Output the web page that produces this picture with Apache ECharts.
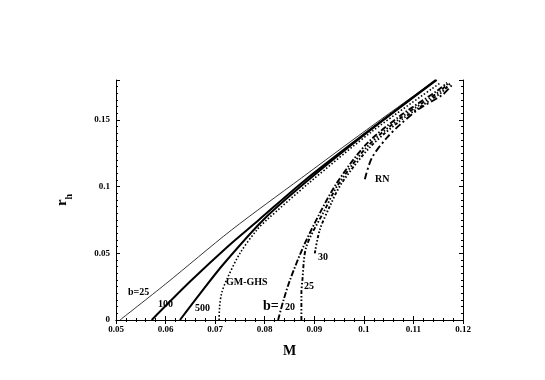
<!DOCTYPE html>
<html>
<head>
<meta charset="utf-8">
<script src="https://cdn.jsdelivr.net/npm/echarts@6/dist/echarts.min.js"></script>
<style>
  html, body { margin: 0; padding: 0; background: #fff; }
  #chart { width: 545px; height: 380px; }
</style>
</head>
<body>
<div id="chart"></div>
<script>
// tick labels
const xTicks = [0.05, 0.06, 0.07, 0.08, 0.09, 0.1, 0.11, 0.12]
const yTicks = [0, 0.05, 0.1, 0.15]

// GM-GHS b=25 (thin)
const b25M = [0.0508, 0.060, 0.0733, 0.0874, 0.1005, 0.1145]
const b25R = [0, 0.027, 0.0675, 0.1065, 0.1425, 0.18]
// GM-GHS b=100
const b100M = [0.0572, 0.065, 0.0725, 0.0788, 0.088, 0.101, 0.1145]
const b100R = [0, 0.029, 0.055, 0.075, 0.1045, 0.142, 0.18]
// GM-GHS b=500
const b500M = [0.0629, 0.067, 0.0717, 0.0797, 0.0885, 0.101, 0.1147]
const b500R = [0, 0.02, 0.042, 0.075, 0.104, 0.1415, 0.18]
// GM-GHS (dotted)
const ghsM = [0.0708, 0.0709, 0.0713, 0.0723, 0.075, 0.0784, 0.0804, 0.089, 0.1015, 0.1155]
const ghsR = [0, 0.01, 0.02, 0.03, 0.05, 0.0675, 0.075, 0.103, 0.141, 0.178]
// dash-dot family
const d20M = [0.0827, 0.0838, 0.0851, 0.0878, 0.0911, 0.0945, 0.1004, 0.1071, 0.1150, 0.1168]
const d20R = [0, 0.015, 0.030, 0.055, 0.080, 0.1025, 0.1315, 0.1525, 0.1725, 0.178]
const d25M = [0.0874, 0.0874, 0.0876, 0.0884, 0.0921, 0.0948, 0.1008, 0.1074, 0.1153, 0.1171]
const d25R = [0, 0.02, 0.030, 0.055, 0.0825, 0.1015, 0.1305, 0.1515, 0.1715, 0.178]
const d30M = [0.0901, 0.0911, 0.0931, 0.0955, 0.1012, 0.1077, 0.1156, 0.1174]
const d30R = [0.05, 0.0675, 0.085, 0.1025, 0.1295, 0.1505, 0.1705, 0.1775]
const rnM = [0.1002, 0.1016, 0.1046, 0.1073, 0.1110, 0.1159, 0.1177]
const rnR = [0.1055, 0.1215, 0.1365, 0.1465, 0.158, 0.169, 0.176]

const zip = (a, b) => a.map((v, i) => [v, b[i]])
const FONT = 'Liberation Serif'

const chart = echarts.init(document.getElementById('chart'))

function curve(name, m, r, width, type) {
  return {
    name, type: 'line', data: zip(m, r), smooth: 0.3, showSymbol: false,
    symbol: 'none', clip: true,
    lineStyle: { color: '#000', width, type },
  }
}

const tickStyle = { color: '#000', width: 1 }
const label = (text, left, top, size) => ({
  type: 'text', left, top,
  style: { text, fill: '#000', font: `bold ${size || 10}px "${FONT}"` },
})

chart.setOption({
  animation: false,
  grid: { left: 116, right: 82, top: 80, bottom: 60 },
  xAxis: [{
    type: 'value', min: 0.05, max: 0.12, interval: 0.01,
    name: 'M', nameLocation: 'middle', nameGap: 24,
    nameTextStyle: { fontFamily: FONT, fontWeight: 'bold', fontSize: 14, color: '#000' },
    axisLine: { lineStyle: tickStyle },
    axisTick: { inside: true, length: 4, lineStyle: tickStyle },
    minorTick: { show: true, splitNumber: 5, length: 2, lineStyle: tickStyle },
    splitLine: { show: false },
    axisLabel: {
      color: '#000', fontFamily: FONT, fontWeight: 'bold', fontSize: 9, margin: 5,
      formatter: (v) => xTicks.find((t) => Math.abs(t - v) < 1e-9) + '',
    },
  }, {
    type: 'value', position: 'top', min: 0.05, max: 0.12, interval: 0.01,
    axisLine: { lineStyle: tickStyle },
    axisTick: { inside: true, length: 4, lineStyle: tickStyle },
    minorTick: { show: true, splitNumber: 5, length: 2, lineStyle: tickStyle },
    splitLine: { show: false }, axisLabel: { show: false },
  }],
  yAxis: [{
    type: 'value', min: 0, max: 0.18, interval: 0.05,
    name: '{r|r}{h|h}', nameLocation: 'middle', nameGap: 46, nameRotate: 90,
    nameTextStyle: {
      color: '#000',
      rich: {
        r: { fontFamily: FONT, fontWeight: 'bold', fontSize: 15, color: '#000', lineHeight: 18, verticalAlign: 'bottom' },
        h: { fontFamily: FONT, fontWeight: 'bold', fontSize: 10, color: '#000', lineHeight: 18, verticalAlign: 'bottom', padding: [0, 0, -4, 0] },
      },
    },
    axisLine: { show: true, lineStyle: tickStyle },
    axisTick: { inside: true, length: 4, lineStyle: tickStyle },
    minorTick: { show: true, splitNumber: 10, length: 2, lineStyle: tickStyle },
    splitLine: { show: false },
    axisLabel: {
      color: '#000', fontFamily: FONT, fontWeight: 'bold', fontSize: 9, margin: 6,
      showMaxLabel: false,
      formatter: (v) => {
        const t = yTicks.find((t) => Math.abs(t - v) < 1e-9)
        return t === undefined ? '' : t + ''
      },
    },
  }, {
    type: 'value', position: 'right', min: 0, max: 0.18, interval: 0.05,
    axisLine: { show: true, lineStyle: tickStyle },
    axisTick: { inside: true, length: 4, lineStyle: tickStyle },
    minorTick: { show: true, splitNumber: 10, length: 2, lineStyle: tickStyle },
    splitLine: { show: false }, axisLabel: { show: false },
  }],
  series: [
    curve('b=25', b25M, b25R, 0.8, 'solid'),
    curve('100', b100M, b100R, 2, 'solid'),
    curve('500', b500M, b500R, 2, 'solid'),
    curve('GM-GHS', ghsM, ghsR, 1.6, [1.5, 2]),
    curve('20', d20M, d20R, 1.9, [6, 2, 1.5, 2]),
    curve('25', d25M, d25R, 1.9, [4, 2, 1.5, 2, 1.5, 2]),
    curve('30', d30M, d30R, 1.9, [3, 2, 1.5, 2, 1.5, 2, 1.5, 2]),
    curve('RN', rnM, rnR, 1.9, [7, 3, 2, 3]),
  ],
  graphic: [
    label('b=25', 128, 287),
    label('100', 158, 299),
    label('500', 195, 303),
    label('GM-GHS', 226, 277),
    label('b=', 263, 299, 14),
    label('20', 285, 302),
    label('25', 304, 281),
    label('30', 318, 252),
    label('RN', 375, 174),
  ],
})
</script>
</body>
</html>
